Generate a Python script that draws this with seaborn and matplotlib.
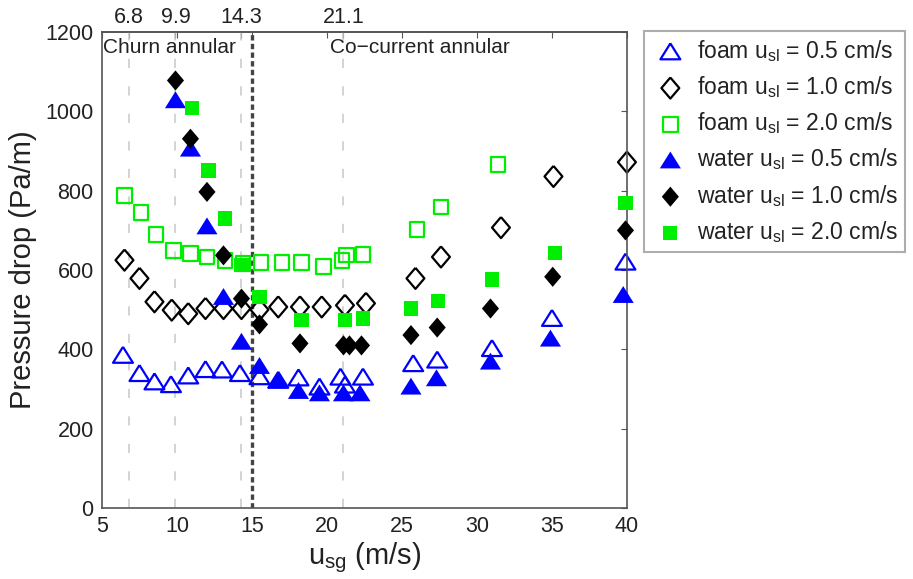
import matplotlib
matplotlib.use("Agg")
import matplotlib.pyplot as plt
import seaborn as sns
import pandas as pd

# superficial gas velocity (m/s) and pressure drop (Pa/m) per series
foam_05_x = [6.4, 7.5, 8.5, 9.6, 10.75, 11.9, 13.0, 14.2, 15.5, 16.75, 18.1, 19.5, 20.9, 21.2, 22.4, 25.75, 27.35, 31.0, 35.0, 39.9]
foam_05_y = [385, 339, 318, 311, 333, 349, 348, 339, 331, 322, 328, 305, 330, 310, 330, 364, 373, 402, 478, 620]

foam_10_x = [6.5, 7.5, 8.5, 9.65, 10.75, 11.9, 13.1, 14.3, 15.5, 16.75, 18.2, 19.65, 21.2, 22.6, 25.9, 27.6, 31.6, 35.1, 40.0]
foam_10_y = [625, 579, 520, 499, 490, 503, 503, 503, 500, 507, 507, 507, 511, 516, 579, 633, 707, 836, 872]

foam_20_x = [6.5, 7.6, 8.6, 9.75, 10.9, 12.0, 13.2, 14.4, 15.6, 17.0, 18.3, 19.75, 21.0, 21.3, 22.4, 26.0, 27.6, 31.4]
foam_20_y = [788, 744, 690, 650, 641, 633, 625, 616, 619, 619, 619, 608, 625, 638, 640, 703, 759, 866]

water_05_x = [9.9, 10.9, 12.0, 13.1, 14.3, 15.5, 16.75, 18.1, 19.5, 21.1, 22.2, 25.6, 27.3, 30.9, 34.9, 39.75]
water_05_y = [1028, 906, 710, 532, 419, 358, 322, 295, 289, 289, 289, 306, 327, 369, 427, 537]

water_10_x = [9.9, 10.9, 12.0, 13.1, 14.3, 15.5, 18.2, 21.1, 21.5, 22.3, 25.6, 27.35, 30.9, 35.05, 39.9]
water_10_y = [1078, 931, 797, 637, 528, 463, 415, 410, 410, 410, 436, 455, 503, 583, 700]

water_20_x = [11.0, 12.1, 13.2, 14.3, 15.5, 18.3, 21.2, 22.4, 25.6, 27.4, 31.0, 35.2, 39.9]
water_20_y = [1009, 851, 730, 612, 532, 474, 474, 478, 503, 522, 576, 643, 769]

regime_x = [6.8, 9.9, 14.3, 21.1]
regime_labels = ["6.8", "9.9", "14.3", "21.1"]
boundary_x = 15

sns.set_theme(style="white")
plt.rcParams["font.family"] = ["Liberation Sans", "DejaVu Sans"]
plt.rcParams["mathtext.default"] = "regular"

BLUE = "#0000ff"
GREEN = "#00ee00"
# closed outlines so the open markers get all their sides
TRI = [(0, 0.85), (1, -0.75), (-1, -0.75), (0, 0.85)]
DIA = [(0, 1), (0.85, 0), (0, -1), (-0.85, 0), (0, 1)]

series = [
    ("foam", "0.5", foam_05_x, foam_05_y, TRI, BLUE, False, 205),
    ("foam", "1.0", foam_10_x, foam_10_y, DIA, "black", False, 230),
    ("foam", "2.0", foam_20_x, foam_20_y, "s", GREEN, False, 115),
    ("water", "0.5", water_05_x, water_05_y, TRI, BLUE, True, 230),
    ("water", "1.0", water_10_x, water_10_y, DIA, "black", True, 210),
    ("water", "2.0", water_20_x, water_20_y, "s", GREEN, True, 105),
]

fig = plt.figure(figsize=(9.13, 5.79), dpi=100)
ax = fig.add_axes([0.1117, 0.1226, 0.575, 0.822])

# regime boundaries
for xv in regime_x:
    ax.axvline(xv, color="#c8c8c8", lw=1.1, ls=(0, (6, 12)), zorder=1)
ax.axvline(boundary_x, color="#444444", lw=2.4, ls=(0, (1.6, 1.0)), zorder=1)

for fluid, usl, xs, ys, mk, col, filled, size in series:
    df = pd.DataFrame({"usg": xs, "dp": ys})
    label = f"{fluid} u$_{{sl}}$ = {usl} cm/s"
    if filled:
        sns.scatterplot(data=df, x="usg", y="dp", ax=ax, marker=mk, s=size,
                        color=col, edgecolor="none", linewidth=0, label=label,
                        zorder=3, clip_on=False)
    else:
        sns.scatterplot(data=df, x="usg", y="dp", ax=ax, marker=mk, s=size,
                        color=col, facecolor="none", edgecolor=col, linewidth=1.6,
                        label=label, zorder=2, clip_on=False)

ax.set_xlim(5, 40)
ax.set_ylim(0, 1200)
ax.set_xticks(range(5, 41, 5))
ax.set_yticks(range(0, 1201, 200))
ax.set_xlabel("u$_{sg}$ (m/s)", fontsize=21, color="#222222", labelpad=2)
ax.set_ylabel("Pressure drop (Pa/m)", fontsize=21, color="#222222", labelpad=6)
ax.tick_params(direction="in", length=4, width=0.8, top=True, right=True,
               labelsize=15.5, colors="#555555", labelcolor="#222222", pad=6)
for sp in ax.spines.values():
    sp.set_color("#555555")
    sp.set_linewidth(1.2)

secax = ax.secondary_xaxis("top")
secax.set_xticks(regime_x, labels=regime_labels)
secax.tick_params(direction="in", length=4, width=0.8, labelsize=15.5,
                  colors="#555555", labelcolor="#222222", pad=3)
secax.spines["top"].set_color("#555555")

ax.text(5.1, 1185, "Churn annular", fontsize=15, color="#222222", va="top", ha="left")
ax.text(20.2, 1185, "Co\u2212current annular", fontsize=15, color="#222222", va="top", ha="left")

leg = ax.legend(loc="upper left", bbox_to_anchor=(644 / 913, 1 - 31 / 579),
                bbox_transform=fig.transFigure, fontsize=16.5, frameon=True,
                fancybox=False, edgecolor="#999999", borderpad=0.3,
                labelspacing=0.45, handletextpad=0.3, handlelength=1.7,
                borderaxespad=0)
leg.get_frame().set_linewidth(1.5)
for t in leg.get_texts():
    t.set_color("#222222")

fig.savefig("out.png", dpi=100)
